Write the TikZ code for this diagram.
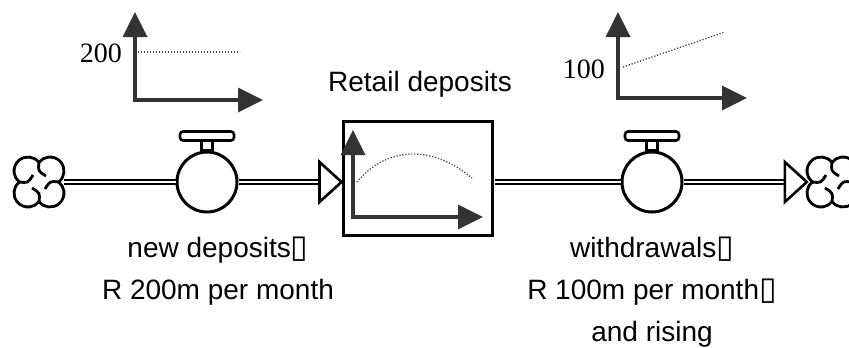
\documentclass[tikz,border=0pt]{standalone}
\usepackage{fontspec}
\setmainfont{Liberation Sans}
\newfontfamily\numfont{Liberation Serif}
\newfontfamily\boxfont{DejaVu Sans}
\usetikzlibrary{arrows.meta,calc}

\newcommand{\gapbox}{{\boxfont\fontsize{32}{42}\selectfont ▯}}

\tikzset{
	pipe/.style={double, double distance=2.4pt, line width=2.1pt},
	valve/.style={shape=circle, draw=black, line width=3pt, minimum size=60pt, inner sep=0pt, fill=white},
	handle/.style={draw=black, line width=2.6pt, fill=white},
	flowhead/.style={draw=black, line width=2.6pt, fill=white, line join=miter},
	graphaxes/.style={line width=3.6pt, draw=black!80, {Triangle[length=25pt,width=24pt]}-{Triangle[length=25pt,width=24pt]}},
	trend/.style={dash pattern=on 1.2pt off 1.8pt, line width=1.3pt, draw=black!75},
	flowtext/.style={font=\fontsize{28}{42}\selectfont, align=center, inner sep=0pt},
	numtext/.style={font=\numfont\fontsize{28}{34}\selectfont, inner sep=0pt},
	sdcloud/.pic={
		\draw[line width=2.8pt, fill=white]
			(0,19.66) arc[start angle=141.8, end angle=-51.8, radius=14]
			arc[start angle=51.8, end angle=-141.8, radius=14]
			arc[start angle=-38.2, end angle=-231.8, radius=14]
			arc[start angle=-128.2, end angle=-321.8, radius=14] -- cycle;
		\foreach \a in {0,90,180,270}
			\draw[line width=2.8pt, rotate=\a] (0,19.66) .. controls (1,11) .. (-7,6);
	}
}

\begin{document}
\begin{tikzpicture}[x=1pt, y=-1pt]
	\useasboundingbox (0,0) rectangle (849,348);

	% small graphs above the flows
	\draw[graphaxes] (135,12) -- (135,100) -- (263,100);
	\draw[trend] (138,52) -- (240,52);
	\node[numtext, anchor=east] (v200) at (122,53) {200};

	\draw[graphaxes] (618,12) -- (618,98) -- (747,98);
	\draw[trend] (623,67) -- (725,32);
	\node[numtext, anchor=east] (v100) at (605,69) {100};

	% stock
	\node[flowtext] (stockname) at (420,84) {Retail deposits};
	\node[shape=rectangle, draw=black, line width=3pt, minimum width=149pt, minimum height=114pt, inner sep=0pt] (stock) at (417.5,178) {};
	\draw[graphaxes] (353,130) -- (353,217) -- (483,217);
	\draw[trend] (357,182) .. controls (385,148) and (430,143) .. (472,178);

	% clouds and valves
	\node[shape=circle, minimum size=50pt, inner sep=0pt] (source) at (39,182) {};
	\node[shape=circle, minimum size=50pt, inner sep=0pt] (sink) at (832,182) {};
	\node[valve] (valveL) at (207,182) {};
	\node[valve] (valveR) at (652,182) {};
	\coordinate (inTip) at (stock.west |- valveL);
	\coordinate (outTip) at (sink.west |- valveR);

	\draw[pipe] (source.east) -- (valveL);
	\draw[pipe] (valveL) -- ($(inTip)+(-22,0)$);
	\draw[flowhead] ($(inTip)+(-22,-20)$) -- (inTip) -- ($(inTip)+(-22,20)$) -- cycle;
	\draw[pipe, shorten >=1.5pt] (valveR) -- (stock.east |- valveR);
	\draw[pipe] (valveR) -- ($(outTip)+(-22,0)$);
	\draw[flowhead] ($(outTip)+(-22,-20)$) -- (outTip) -- ($(outTip)+(-22,20)$) -- cycle;

	\pic at (source) {sdcloud};
	\pic at (sink) {sdcloud};

	\draw[handle] ([xshift=-5.5pt]valveL.north) rectangle ++(11,-10);
	\draw[handle, rounded corners=3pt] ([shift={(-27,-19)}]valveL.north) rectangle ++(54,9);
	\draw[handle] ([xshift=-5.5pt]valveR.north) rectangle ++(11,-10);
	\draw[handle, rounded corners=3pt] ([shift={(-27,-19)}]valveR.north) rectangle ++(54,9);

	% flow labels
	\node[flowtext, anchor=north] (inname) at (218,237) {new deposits\gapbox\\R 200m per month};
	\node[flowtext, anchor=north] (outname) at (652,237) {withdrawals\gapbox\\R 100m per month\gapbox\\and rising};
\end{tikzpicture}
\end{document}
